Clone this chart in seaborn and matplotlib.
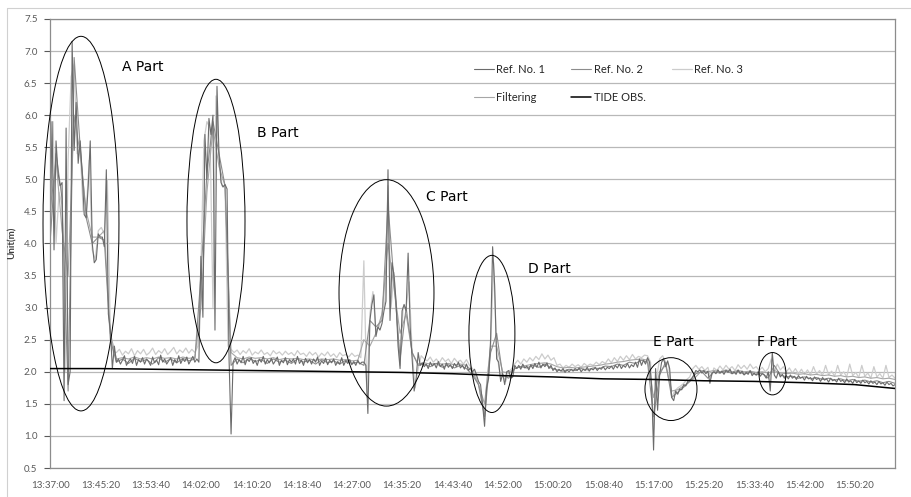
import numpy as np
import pandas as pd
import matplotlib
matplotlib.use("Agg")
import matplotlib.pyplot as plt
from matplotlib.patches import Ellipse
from matplotlib.lines import Line2D
import seaborn as sns

# all times are seconds after 13:37:00
tick_seconds = list(range(0, 8001, 500))
tick_labels = ["13:37:00", "13:45:20", "13:53:40", "14:02:00", "14:10:20", "14:18:40",
               "14:27:00", "14:35:20", "14:43:40", "14:52:00", "15:00:20", "15:08:40",
               "15:17:00", "15:25:20", "15:33:40", "15:42:00", "15:50:20"]

# Ref. No. 1, one sample every 20 s
ref1 = [
    4.0, 5.9, 3.9, 5.6, 5.1, 4.9, 4.95, 1.55, 5.8, 1.8,
    2.0, 7.15, 5.45, 6.2, 5.25, 5.6, 5.1, 4.45, 4.4, 4.9,
    5.6, 4.0, 3.7, 3.75, 4.15, 4.1, 4.1, 3.95, 5.15, 2.9,
    2.65, 2.05, 2.4, 2.15, 2.2, 2.12, 2.18, 2.25, 2.1, 2.16,
    2.2, 2.13, 2.24, 2.1, 2.19, 2.15, 2.22, 2.12, 2.2, 2.16,
    2.1, 2.23, 2.14, 2.18, 2.11, 2.26, 2.15, 2.2, 2.12, 2.17,
    2.22, 2.1, 2.19, 2.14, 2.25, 2.13, 2.2, 2.16, 2.23, 2.12,
    2.18, 2.24, 2.15, 2.2, 2.15, 3.8, 2.85, 5.7, 5.0, 5.95,
    5.7, 6.0, 2.65, 6.45, 5.4, 4.95, 4.88, 4.92, 4.85, 2.2,
    1.03, 2.15, 2.22, 2.12, 2.19, 2.14, 2.24, 2.11, 2.2, 2.16,
    2.22, 2.13, 2.18, 2.1, 2.2, 2.15, 2.24, 2.12, 2.19, 2.14,
    2.21, 2.12, 2.17, 2.23, 2.1, 2.18, 2.14, 2.22, 2.11, 2.19,
    2.15, 2.2, 2.12, 2.24, 2.13, 2.18, 2.1, 2.21, 2.14, 2.19,
    2.12, 2.2, 2.15, 2.23, 2.1, 2.17, 2.13, 2.21, 2.11, 2.18,
    2.14, 2.2, 2.1, 2.16, 2.12, 2.22, 2.1, 2.17, 2.13, 2.19,
    2.11, 2.16, 2.1, 2.18, 2.12, 2.15, 2.15, 2.1, 1.35, 2.8,
    3.05, 3.2, 2.55, 2.7, 2.65, 2.75, 2.95, 3.1, 5.15, 2.8,
    3.7, 3.5, 3.1, 2.4, 2.05, 2.95, 3.05, 2.95, 3.85, 2.7,
    2.2, 1.7, 1.9, 2.3, 2.1, 2.14, 2.08, 2.12, 2.05, 2.15,
    2.09, 2.13, 2.06, 2.16, 2.08, 2.12, 2.04, 2.14, 2.07, 2.11,
    2.05, 2.13, 2.08, 2.15, 2.06, 2.1, 2.04, 2.12, 2.02, 2.06,
    2.0, 2.04, 1.95, 1.85, 1.8, 1.5, 1.15, 1.75, 1.9, 2.5,
    3.95, 3.35, 2.2, 2.15, 1.85, 1.97, 1.8, 2.0, 2.02, 1.9,
    1.92, 2.1, 2.05, 2.1, 2.04, 2.12, 2.06, 2.09, 2.03, 2.11,
    2.05, 2.13, 2.07, 2.15, 2.06, 2.12, 2.08, 2.14, 2.05, 2.1,
    2.02, 2.06, 2.0, 2.04, 2.01, 2.05, 1.99, 2.03, 2.0, 2.04,
    2.01, 2.05, 2.02, 2.06, 2.0, 2.04, 2.02, 2.07, 2.01, 2.05,
    2.03, 2.07, 2.02, 2.06, 2.04, 2.08, 2.03, 2.07, 2.05, 2.09,
    2.04, 2.1, 2.06, 2.12, 2.05, 2.1, 2.07, 2.13, 2.06, 2.11,
    2.08, 2.15, 2.07, 2.2, 2.1, 2.18, 2.12, 2.22, 2.15, 1.8,
    0.78, 2.05, 1.4, 1.95, 2.15, 2.2, 2.08, 2.17, 2.05, 1.6,
    1.55, 1.7, 1.65, 1.73, 1.72, 1.8, 1.78, 1.85, 1.87, 1.9,
    1.95, 2.02, 2.0, 2.03, 1.98, 2.02, 1.97, 2.01, 1.82, 1.98,
    2.0, 1.97, 2.03, 1.98, 2.01, 1.96, 2.02, 1.99, 2.04, 1.97,
    2.0, 1.96, 2.03, 1.97, 2.01, 1.95, 1.99, 1.96, 2.02, 1.94,
    1.98, 1.95, 2.0, 1.93, 1.97, 1.95, 1.9, 2.0, 1.7, 2.3,
    1.95, 1.9, 2.0, 1.92, 1.96, 1.9, 1.94, 1.89, 1.95, 1.9,
    1.93, 1.88, 1.94, 1.9, 1.92, 1.87, 1.93, 1.89, 1.91, 1.86,
    1.92, 1.88, 1.9, 1.85, 1.91, 1.87, 1.89, 1.84, 1.9, 1.86,
    1.88, 1.84, 1.9, 1.85, 1.87, 1.83, 1.89, 1.84, 1.86, 1.82,
    1.88, 1.83, 1.86, 1.82, 1.87, 1.83, 1.85, 1.81, 1.86, 1.82,
    1.84, 1.8, 1.85, 1.81, 1.83, 1.79, 1.84, 1.8, 1.82, 1.78, 1.8,
]

# Ref. No. 2, one sample every 60 s
ref2 = [
    4.0, 5.4, 4.7, 1.7, 6.9, 5.5, 4.4, 4.0, 4.1, 4.05,
    2.5, 2.15, 2.2, 2.13, 2.21, 2.16, 2.19, 2.12, 2.22, 2.15,
    2.2, 2.14, 2.21, 2.17, 2.2, 3.5, 5.1, 5.9, 5.4, 4.9,
    2.1, 2.2, 2.14, 2.21, 2.16, 2.19, 2.13, 2.2, 2.15, 2.18,
    2.13, 2.2, 2.15, 2.18, 2.12, 2.19, 2.14, 2.17, 2.12, 2.18,
    2.13, 2.15, 2.1, 2.8, 2.7, 2.8, 4.6, 3.4, 2.2, 3.0,
    2.3, 2.1, 2.12, 2.08, 2.13, 2.07, 2.11, 2.06, 2.1, 2.05,
    1.95, 1.8, 1.3, 2.3, 2.6, 1.95, 1.9, 2.05, 2.08, 2.06,
    2.1, 2.07, 2.12, 2.06, 2.03, 2.01, 2.04, 2.02, 2.05, 2.03,
    2.06, 2.05, 2.09, 2.08, 2.12, 2.1, 2.15, 2.13, 2.18, 2.15,
    1.3, 1.95, 2.15, 1.6, 1.68, 1.76, 1.85, 1.97, 2.0, 1.9,
    2.0, 1.98, 2.02, 1.97, 2.01, 1.96, 2.0, 1.95, 1.98, 1.9,
    2.1, 1.95, 1.92, 1.93, 1.9, 1.92, 1.89, 1.91, 1.88, 1.9,
    1.87, 1.89, 1.86, 1.88, 1.85, 1.87, 1.84, 1.86, 1.83, 1.85, 1.82,
]

# Ref. No. 3, one sample every 30 s
ref3 = [
    3.9, 5.9, 4.0, 4.8, 4.6, 2.0, 5.3, 6.6, 6.8, 5.4,
    5.5, 4.5, 4.5, 5.3, 3.9, 3.75, 4.2, 4.25, 4.15, 5.0,
    2.6, 2.3, 2.3, 2.35, 2.26, 2.32, 2.28, 2.36, 2.25, 2.33,
    2.28, 2.35, 2.26, 2.3, 2.37, 2.27, 2.33, 2.29, 2.36, 2.27,
    2.32, 2.38, 2.28, 2.34, 2.3, 2.37, 2.29, 2.35, 2.3, 2.4,
    3.6, 5.6, 5.9, 5.8, 3.0, 6.3, 5.3, 4.9, 4.9, 2.4,
    2.35, 2.3, 2.34, 2.27, 2.33, 2.29, 2.36, 2.26, 2.31, 2.28,
    2.34, 2.27, 2.3, 2.25, 2.33, 2.28, 2.31, 2.26, 2.32, 2.27,
    2.3, 2.25, 2.33, 2.27, 2.29, 2.24, 2.31, 2.26, 2.3, 2.23,
    2.29, 2.25, 2.31, 2.24, 2.28, 2.22, 2.3, 2.25, 2.27, 2.23,
    2.29, 2.24, 2.26, 2.22, 3.73, 1.6, 2.9, 3.25, 2.65, 2.7,
    2.9, 3.1, 4.9, 3.0, 3.55, 2.8, 2.1, 3.0, 3.0, 3.4,
    2.3, 1.75, 2.05, 2.25, 2.2, 2.17, 2.23, 2.15, 2.2, 2.14,
    2.22, 2.16, 2.2, 2.13, 2.21, 2.15, 2.18, 2.12, 2.19, 2.1,
    2.05, 1.95, 1.8, 1.55, 1.35, 1.95, 2.4, 3.7, 2.3, 2.0,
    1.95, 1.85, 2.0, 2.05, 2.12, 2.18, 2.12, 2.2, 2.15, 2.22,
    2.17, 2.24, 2.19, 2.28, 2.2, 2.26, 2.18, 2.22, 2.1, 2.12,
    2.06, 2.1, 2.07, 2.12, 2.08, 2.11, 2.07, 2.13, 2.09, 2.12,
    2.1, 2.15, 2.11, 2.16, 2.13, 2.2, 2.14, 2.22, 2.16, 2.24,
    2.18, 2.25, 2.19, 2.27, 2.2, 2.24, 2.22, 2.26, 2.25, 2.15,
    1.1, 1.9, 2.2, 2.25, 2.15, 2.1, 1.6, 1.7, 1.75, 1.78,
    1.82, 1.88, 1.92, 2.05, 2.1, 2.04, 2.08, 2.02, 2.07, 1.9,
    2.06, 2.02, 2.09, 2.03, 2.1, 2.04, 2.08, 2.02, 2.11, 2.05,
    2.1, 2.04, 2.12, 2.05, 2.08, 2.02, 2.07, 2.0, 2.05, 2.2,
    2.0, 2.12, 2.03, 2.08, 2.0, 2.06, 1.98, 2.05, 1.97, 2.04,
    1.96, 2.03, 1.95, 2.08, 1.96, 2.02, 1.94, 2.1, 1.95, 2.01,
    1.93, 2.1, 1.95, 2.0, 1.92, 2.12, 1.94, 1.99, 1.91, 2.1,
    1.93, 1.98, 1.9, 2.08, 1.92, 1.97, 1.9, 2.1, 1.91, 1.95, 1.9,
]

# Filtering, one sample every 60 s
filtering = [
    4.5, 5.3, 4.2, 3.5, 6.0, 5.4, 4.5, 4.1, 4.1, 4.2,
    2.6, 2.2, 2.22, 2.2, 2.23, 2.2, 2.22, 2.2, 2.23, 2.21,
    2.22, 2.2, 2.23, 2.21, 2.22, 3.0, 4.8, 5.8, 5.2, 4.9,
    2.3, 2.22, 2.2, 2.23, 2.21, 2.22, 2.2, 2.22, 2.19, 2.21,
    2.2, 2.21, 2.19, 2.2, 2.18, 2.2, 2.19, 2.2, 2.18, 2.19,
    2.17, 2.18, 2.5, 2.4, 2.6, 2.9, 4.0, 3.3, 2.6, 2.9,
    2.3, 2.12, 2.14, 2.12, 2.13, 2.12, 2.13, 2.11, 2.12, 2.1,
    2.0, 1.8, 1.5, 2.4, 2.4, 2.0, 1.98, 2.05, 2.08, 2.1,
    2.12, 2.13, 2.14, 2.12, 2.08, 2.06, 2.07, 2.06, 2.07, 2.08,
    2.09, 2.1, 2.12, 2.13, 2.15, 2.16, 2.18, 2.19, 2.2, 2.18,
    1.6, 2.0, 2.1, 1.7, 1.72, 1.78, 1.85, 1.92, 2.02, 2.0,
    2.02, 2.0, 2.03, 2.0, 2.02, 2.0, 2.01, 1.99, 2.0, 1.98,
    2.02, 1.98, 1.97, 1.98, 1.96, 1.97, 1.95, 1.96, 1.94, 1.95,
    1.93, 1.94, 1.92, 1.93, 1.91, 1.92, 1.9, 1.91, 1.89, 1.9, 1.88,
]

# observed tide
tide_t = [0, 500, 1000, 1500, 2000, 2500, 3000, 3500, 4000, 4500,
          5000, 5500, 6000, 6500, 7000, 7500, 8000, 8400]
tide_v = [2.05, 2.05, 2.04, 2.03, 2.02, 2.01, 2.0, 1.99, 1.97, 1.94,
          1.92, 1.89, 1.88, 1.86, 1.85, 1.83, 1.8, 1.74]

# marked regions: name, centre time, centre value, width (s), height (m)
parts = [("A", 308, 4.31, 755, 5.84), ("B", 1650, 4.35, 577, 4.42),
         ("C", 3345, 3.23, 944, 3.53), ("D", 4393, 2.59, 457, 2.45),
         ("E", 6173, 1.73, 517, 0.98), ("F", 7182, 1.97, 268, 0.66)]
part_label_pos = {"A": (716, 6.75), "B": (2058, 5.73), "C": (3737, 4.73),
                  "D": (4751, 3.61), "E": (5994, 2.47), "F": (7028, 2.47)}

sns.set_theme(style="white")
plt.rcParams["font.family"] = ["Lato", "DejaVu Sans"]

fig = plt.figure(figsize=(9.11, 4.97), dpi=100)
ax = fig.add_axes([50 / 911, 1 - 468 / 497, 845 / 911, 449 / 497])

series = [
    ("Ref. No. 1", ref1, 20, "#6b6b6b", 0.8, 2.4),
    ("Ref. No. 2", ref2, 60, "#8c8c8c", 0.8, 2.3),
    ("Ref. No. 3", ref3, 30, "#cccccc", 0.9, 2.1),
    ("Filtering", filtering, 60, "#a6a6a6", 0.8, 2.2),
]
for name, vals, step, color, lw, z in series:
    t = np.arange(len(vals)) * step
    sns.lineplot(x=t, y=vals, ax=ax, color=color, linewidth=lw, label=name,
                 zorder=z, estimator=None)
sns.lineplot(x=tide_t, y=tide_v, ax=ax, color="black", linewidth=1.1,
             label="TIDE OBS.", zorder=2.6, estimator=None)

for name, ct, cv, w, h in parts:
    ax.add_patch(Ellipse((ct, cv), w, h, fill=False, ec="black", lw=0.7,
                         zorder=3, clip_on=False))
    lx, ly = part_label_pos[name]
    ax.text(lx, ly, f"{name} Part", fontsize=10, family="DejaVu Sans",
            color="black", va="center", ha="left")

ax.set_xlim(0, 8400)
ax.set_ylim(0.5, 7.5)
ax.set_yticks(np.arange(0.5, 7.51, 0.5))
ax.set_yticklabels([f"{v:.1f}" for v in np.arange(0.5, 7.51, 0.5)])
ax.set_xticks(tick_seconds)
ax.set_xticklabels(tick_labels)
ax.tick_params(axis="both", labelsize=7, colors="#595959", labelcolor="#595959")
ax.tick_params(axis="y", direction="out", length=4, width=0.8, left=True, pad=5)
ax.tick_params(axis="x", direction="out", length=0, pad=9)
ax.set_xlabel("")
ax.set_ylabel("")
ax.yaxis.grid(True, color="#b8b8b8", linewidth=0.9)
ax.xaxis.grid(False)
ax.set_axisbelow(True)
for side in ["left", "bottom", "top", "right"]:
    ax.spines[side].set_color("#8c8c8c")
    ax.spines[side].set_linewidth(0.9)

fig.text(12 / 911, 1 - 243 / 497, "Unit(m)", rotation=90, fontsize=7,
         fontweight="bold", color="#404040", ha="center", va="center")

# row-wise order for the 3-column legend
handles, labels = ax.get_legend_handles_labels()
order = [0, 3, 1, 4, 2]
ax.legend([handles[i] for i in order], [labels[i] for i in order],
          loc="upper left", bbox_to_anchor=(468 / 911, 1 - 58 / 497),
          bbox_transform=fig.transFigure, ncol=3, frameon=False, fontsize=8,
          handlelength=1.8, handletextpad=0.2, columnspacing=2.4,
          labelspacing=1.6, borderpad=0)

# chart area border (top and left edges only are visible)
fig.add_artist(Line2D([7 / 911, 1], [1 - 8 / 497, 1 - 8 / 497],
                      transform=fig.transFigure, color="#d0d0d0", lw=0.8))
fig.add_artist(Line2D([7 / 911, 7 / 911], [0, 1 - 8 / 497],
                      transform=fig.transFigure, color="#d0d0d0", lw=0.8))

fig.savefig("out.png", dpi=100)
